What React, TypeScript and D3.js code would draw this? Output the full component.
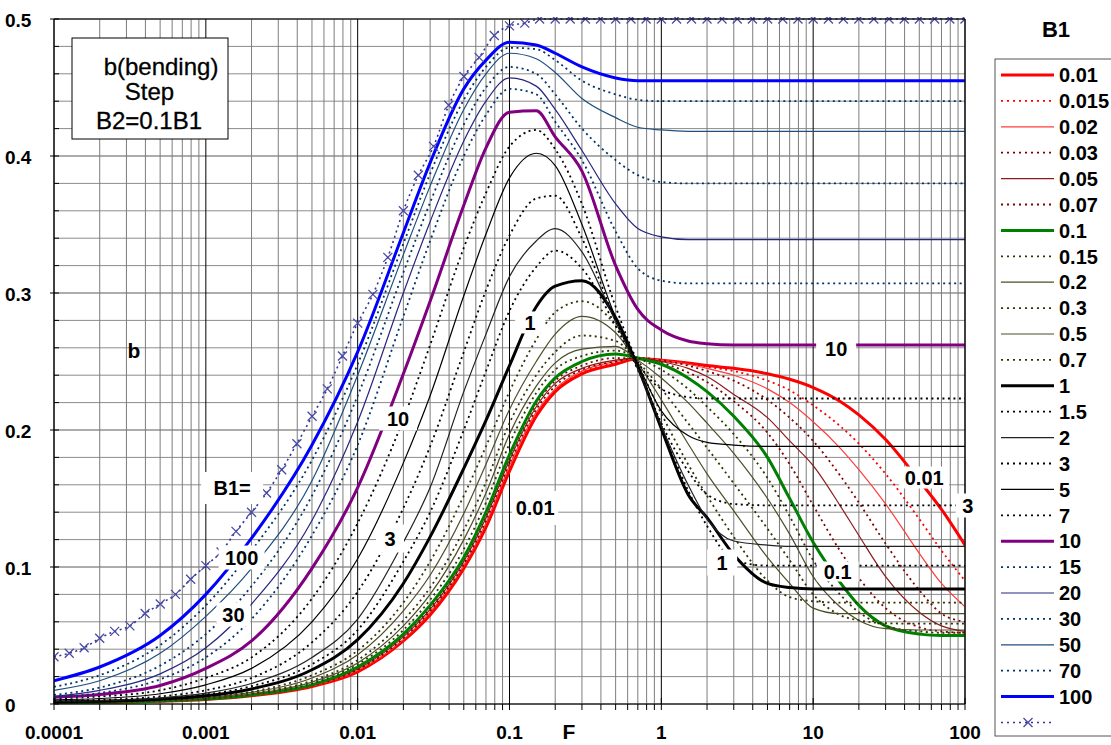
import React from 'react';
import * as d3 from 'd3';

// F sample points shared by all B1 curves
const fGrid = [0.0001, 0.0002, 0.0005, 0.001, 0.002, 0.005, 0.01, 0.02, 0.03, 0.05, 0.07, 0.1, 0.15, 0.2, 0.3, 0.5, 0.7, 1, 1.5, 2, 3, 5, 7, 10, 15, 20, 30, 50, 70, 100];

const b1Labels = ['0.01', '0.015', '0.02', '0.03', '0.05', '0.07', '0.1', '0.15', '0.2', '0.3', '0.5', '0.7', '1', '1.5', '2', '3', '5', '7', '10', '15', '20', '30', '50', '70', '100'];

const b0_01 = [0.0008, 0.0011, 0.002, 0.0033, 0.006, 0.0128, 0.0235, 0.046, 0.065, 0.099, 0.129, 0.170, 0.210, 0.228, 0.241, 0.248, 0.252, 0.251, 0.249, 0.247, 0.245, 0.241, 0.237, 0.231, 0.221, 0.211, 0.193, 0.163, 0.142, 0.116];
const b0_015 = [0.0008, 0.0011, 0.002, 0.0034, 0.0061, 0.013, 0.024, 0.0465, 0.066, 0.100, 0.131, 0.172, 0.212, 0.229, 0.242, 0.249, 0.2525, 0.251, 0.248, 0.246, 0.243, 0.236, 0.229, 0.218, 0.203, 0.190, 0.168, 0.135, 0.112, 0.090];
const b0_02 = [0.0008, 0.0011, 0.002, 0.0034, 0.0062, 0.0132, 0.0245, 0.047, 0.067, 0.101, 0.132, 0.174, 0.213, 0.230, 0.243, 0.250, 0.2525, 0.251, 0.248, 0.245, 0.240, 0.230, 0.220, 0.206, 0.187, 0.171, 0.146, 0.110, 0.088, 0.071];
const b0_03 = [0.0009, 0.0012, 0.0021, 0.0035, 0.0063, 0.0134, 0.025, 0.048, 0.068, 0.102, 0.134, 0.176, 0.215, 0.232, 0.244, 0.250, 0.2525, 0.251, 0.247, 0.243, 0.236, 0.222, 0.209, 0.192, 0.167, 0.147, 0.117, 0.083, 0.066, 0.060];
const b0_05 = [0.0009, 0.0012, 0.0021, 0.0035, 0.0064, 0.0136, 0.0255, 0.049, 0.069, 0.104, 0.136, 0.178, 0.217, 0.234, 0.245, 0.251, 0.2525, 0.250, 0.245, 0.239, 0.226, 0.209, 0.192, 0.174, 0.145, 0.123, 0.093, 0.067, 0.057, 0.053];
const b0_07 = [0.0009, 0.0012, 0.0021, 0.0035, 0.0065, 0.0138, 0.026, 0.050, 0.070, 0.105, 0.138, 0.180, 0.219, 0.236, 0.247, 0.2525, 0.2525, 0.249, 0.242, 0.235, 0.221, 0.198, 0.175, 0.145, 0.112, 0.092, 0.070, 0.056, 0.053, 0.052];
const b0_1 = [0.0009, 0.0012, 0.0022, 0.0036, 0.0066, 0.014, 0.027, 0.051, 0.072, 0.107, 0.140, 0.182, 0.221, 0.238, 0.250, 0.2555, 0.2525, 0.248, 0.238, 0.228, 0.210, 0.180, 0.150, 0.118, 0.089, 0.072, 0.057, 0.051, 0.050, 0.050];
const b0_15 = [0.001, 0.0013, 0.0023, 0.0038, 0.007, 0.015, 0.029, 0.054, 0.076, 0.113, 0.147, 0.190, 0.227, 0.244, 0.254, 0.258, 0.2525, 0.244, 0.230, 0.217, 0.197, 0.165, 0.137, 0.105, 0.080, 0.067, 0.057, 0.053, 0.052, 0.052];
const b0_2 = [0.001, 0.0014, 0.0024, 0.004, 0.0073, 0.016, 0.030, 0.057, 0.080, 0.120, 0.154, 0.197, 0.232, 0.249, 0.259, 0.261, 0.251, 0.238, 0.220, 0.205, 0.183, 0.150, 0.124, 0.093, 0.071, 0.061, 0.055, 0.054, 0.054, 0.054];
const b0_3 = [0.0011, 0.0015, 0.0026, 0.0043, 0.0078, 0.017, 0.032, 0.061, 0.085, 0.127, 0.162, 0.205, 0.240, 0.257, 0.269, 0.265, 0.250, 0.230, 0.205, 0.187, 0.161, 0.128, 0.105, 0.080, 0.065, 0.061, 0.059, 0.0586, 0.0586, 0.0586];
const b0_5 = [0.0012, 0.0016, 0.0028, 0.0047, 0.0085, 0.019, 0.036, 0.068, 0.094, 0.139, 0.175, 0.215, 0.250, 0.270, 0.283, 0.271, 0.249, 0.222, 0.190, 0.168, 0.141, 0.107, 0.088, 0.070, 0.066, 0.066, 0.066, 0.066, 0.066, 0.066];
const b0_7 = [0.0013, 0.0017, 0.003, 0.005, 0.009, 0.021, 0.039, 0.074, 0.104, 0.152, 0.188, 0.228, 0.266, 0.286, 0.294, 0.276, 0.248, 0.212, 0.175, 0.152, 0.122, 0.090, 0.078, 0.075, 0.074, 0.074, 0.074, 0.074, 0.074, 0.074];
const b1 = [0.0015, 0.002, 0.0035, 0.006, 0.011, 0.025, 0.047, 0.088, 0.122, 0.172, 0.207, 0.247, 0.290, 0.305, 0.309, 0.282, 0.246, 0.201, 0.153, 0.136, 0.109, 0.088, 0.085, 0.084, 0.084, 0.084, 0.084, 0.084, 0.084, 0.084];
const b1_5 = [0.0018, 0.0022, 0.004, 0.007, 0.013, 0.029, 0.054, 0.104, 0.140, 0.200, 0.243, 0.287, 0.319, 0.331, 0.318, 0.276, 0.244, 0.203, 0.156, 0.130, 0.105, 0.101, 0.101, 0.101, 0.101, 0.101, 0.101, 0.101, 0.101, 0.101];
const b2 = [0.002, 0.0025, 0.0045, 0.008, 0.015, 0.034, 0.062, 0.118, 0.158, 0.228, 0.270, 0.312, 0.338, 0.347, 0.330, 0.279, 0.245, 0.203, 0.160, 0.135, 0.119, 0.116, 0.115, 0.115, 0.115, 0.115, 0.115, 0.115, 0.115, 0.115];
const b3 = [0.0025, 0.003, 0.0055, 0.010, 0.019, 0.045, 0.082, 0.143, 0.188, 0.257, 0.302, 0.342, 0.369, 0.371, 0.340, 0.280, 0.246, 0.205, 0.170, 0.153, 0.146, 0.145, 0.145, 0.145, 0.145, 0.145, 0.145, 0.145, 0.145, 0.145];
const b5 = [0.003, 0.004, 0.0075, 0.014, 0.026, 0.060, 0.106, 0.176, 0.225, 0.298, 0.343, 0.384, 0.402, 0.393, 0.350, 0.282, 0.248, 0.214, 0.196, 0.191, 0.189, 0.188, 0.188, 0.188, 0.188, 0.188, 0.188, 0.188, 0.188, 0.188];
const b7 = [0.004, 0.0055, 0.010, 0.019, 0.034, 0.077, 0.132, 0.208, 0.262, 0.333, 0.373, 0.407, 0.419, 0.405, 0.365, 0.290, 0.250, 0.230, 0.224, 0.223, 0.223, 0.223, 0.223, 0.223, 0.223, 0.223, 0.223, 0.223, 0.223, 0.223];
const b10 = [0.005, 0.007, 0.0135, 0.026, 0.046, 0.099, 0.158, 0.241, 0.294, 0.364, 0.406, 0.432, 0.433, 0.414, 0.389, 0.320, 0.288, 0.273, 0.265, 0.263, 0.262, 0.262, 0.262, 0.262, 0.262, 0.262, 0.262, 0.262, 0.262, 0.262];
const b15 = [0.0047, 0.008, 0.018, 0.034, 0.062, 0.123, 0.189, 0.283, 0.338, 0.400, 0.430, 0.449, 0.445, 0.425, 0.397, 0.345, 0.318, 0.309, 0.307, 0.307, 0.307, 0.307, 0.307, 0.307, 0.307, 0.307, 0.307, 0.307, 0.307, 0.307];
const b20 = [0.0055, 0.010, 0.022, 0.041, 0.073, 0.134, 0.206, 0.300, 0.352, 0.411, 0.440, 0.457, 0.451, 0.434, 0.404, 0.365, 0.347, 0.341, 0.339, 0.339, 0.339, 0.339, 0.339, 0.339, 0.339, 0.339, 0.339, 0.339, 0.339, 0.339];
const b30 = [0.0066, 0.012, 0.028, 0.051, 0.086, 0.152, 0.225, 0.315, 0.366, 0.423, 0.450, 0.465, 0.460, 0.445, 0.420, 0.397, 0.386, 0.381, 0.380, 0.380, 0.380, 0.380, 0.380, 0.380, 0.380, 0.380, 0.380, 0.380, 0.380, 0.380];
const b50 = [0.010, 0.017, 0.037, 0.064, 0.099, 0.163, 0.240, 0.328, 0.378, 0.434, 0.460, 0.475, 0.471, 0.461, 0.442, 0.428, 0.421, 0.419, 0.418, 0.418, 0.418, 0.418, 0.418, 0.418, 0.418, 0.418, 0.418, 0.418, 0.418, 0.418];
const b70 = [0.0125, 0.021, 0.043, 0.072, 0.112, 0.178, 0.248, 0.336, 0.387, 0.441, 0.465, 0.479, 0.478, 0.470, 0.455, 0.445, 0.441, 0.440, 0.440, 0.440, 0.440, 0.440, 0.440, 0.440, 0.440, 0.440, 0.440, 0.440, 0.440, 0.440];
const b100 = [0.017, 0.027, 0.050, 0.080, 0.121, 0.189, 0.257, 0.344, 0.395, 0.449, 0.470, 0.483, 0.481, 0.475, 0.465, 0.457, 0.455, 0.455, 0.455, 0.455, 0.455, 0.455, 0.455, 0.455, 0.455, 0.455, 0.455, 0.455, 0.455, 0.455];

const seriesValues = [b0_01, b0_015, b0_02, b0_03, b0_05, b0_07, b0_1, b0_15, b0_2, b0_3, b0_5, b0_7, b1, b1_5, b2, b3, b5, b7, b10, b15, b20, b30, b50, b70, b100];

// upper bound curve (crosses), one marker every 0.1 decade
const boundMantissa = [1, 1.26, 1.58, 2, 2.51, 3.16, 3.98, 5.01, 6.31, 7.94];
const boundDecades = [0.0001, 0.001, 0.01, 0.1, 1, 10];
const boundValues = [
  0.0345, 0.037, 0.041, 0.048, 0.053, 0.057, 0.066, 0.073, 0.080, 0.091,
  0.101, 0.111, 0.126, 0.140, 0.154, 0.171, 0.190, 0.210, 0.230, 0.254,
  0.278, 0.299, 0.326, 0.360, 0.386, 0.407, 0.437, 0.458, 0.472, 0.488,
  0.495, 0.497, 0.5, 0.5, 0.5, 0.5, 0.5, 0.5, 0.5, 0.5,
  0.5, 0.5, 0.5, 0.5, 0.5, 0.5, 0.5, 0.5, 0.5, 0.5,
  0.5, 0.5, 0.5, 0.5, 0.5, 0.5, 0.5, 0.5, 0.5, 0.5,
  0.5,
];
const boundF = [...boundDecades.flatMap(d => boundMantissa.map(m => +(d * m).toPrecision(3))), 100];

const xTickLabels = ['0.0001', '0.001', '0.01', '0.1', '1', '10', '100'];
const yTickLabels = ['0', '0.1', '0.2', '0.3', '0.4', '0.5'];

// in-chart labels, anchored in data coordinates (F, b)
const annotations = [
  { text: 'B1=', f: 0.00149, b: 0.1577, w: 62, h: 32 },
  { text: '100', f: 0.00172, b: 0.1069, w: 46, h: 24 },
  { text: '30', f: 0.00152, b: 0.0653, w: 34, h: 24 },
  { text: '10', f: 0.01846, b: 0.2084, w: 38, h: 24 },
  { text: '3', f: 0.01634, b: 0.1208, w: 28, h: 28 },
  { text: '1', f: 0.1367, b: 0.2785, w: 30, h: 22 },
  { text: '0.01', f: 0.1475, b: 0.1431, w: 46, h: 34 },
  { text: '10', f: 14.17, b: 0.2595, w: 40, h: 22 },
  { text: '0.01', f: 53.84, b: 0.1653, w: 50, h: 22 },
  { text: '3', f: 104.2, b: 0.1449, w: 24, h: 24 },
  { text: '1', f: 2.515, b: 0.1033, w: 30, h: 26 },
  { text: '0.1', f: 14.5, b: 0.0967, w: 42, h: 20 },
];

const DOT = '2,3.5';
const seriesStyle = [
  { c: '#ff0000', w: 3, d: null },
  { c: '#ff0000', w: 1.8, d: DOT },
  { c: '#ff3b3b', w: 1.2, d: null },
  { c: '#800000', w: 1.8, d: DOT },
  { c: '#8b1a1a', w: 1.2, d: null },
  { c: '#800000', w: 1.8, d: DOT },
  { c: '#008000', w: 3, d: null },
  { c: '#333300', w: 1.8, d: DOT },
  { c: '#4d4d26', w: 1.2, d: null },
  { c: '#333300', w: 1.8, d: DOT },
  { c: '#4d4d26', w: 1.2, d: null },
  { c: '#333300', w: 1.8, d: DOT },
  { c: '#000000', w: 3, d: null },
  { c: '#000000', w: 1.8, d: DOT },
  { c: '#222222', w: 1.2, d: null },
  { c: '#000000', w: 1.8, d: DOT },
  { c: '#000000', w: 1.2, d: null },
  { c: '#000000', w: 1.8, d: DOT },
  { c: '#800080', w: 3, d: null },
  { c: '#003366', w: 1.8, d: DOT },
  { c: '#262680', w: 1.2, d: null },
  { c: '#003366', w: 1.8, d: DOT },
  { c: '#1f4f7f', w: 1.2, d: null },
  { c: '#003366', w: 1.8, d: DOT },
  { c: '#0000ff', w: 3, d: null },
];
const boundColor = '#33339a';

const FONT = '"Liberation Sans", Arial, sans-serif';

export default function App() {
  const x = d3.scaleLog().domain([1e-4, 100]).range([54, 965]);
  const y = d3.scaleLinear().domain([0, 0.5]).range([704, 19]);

  const line = d3.line<number>()
    .x((_, i) => x(fGrid[i]))
    .y(v => y(v))
    .curve(d3.curveMonotoneX);
  const boundLine = d3.line<number>()
    .x((_, i) => x(boundF[i]))
    .y(v => y(v))
    .curve(d3.curveMonotoneX);

  const xTicks = x.ticks();
  const yTicks = d3.range(0, 0.5001, 0.02).map(v => +v.toFixed(2));
  const isMajorY = (v: number) => Math.abs(v * 10 - Math.round(v * 10)) < 1e-6;
  const isDecade = (v: number) => Math.abs(Math.log10(v) - Math.round(Math.log10(v))) < 1e-6;

  const [x0, x1] = x.range();
  const [y0, y1] = y.range();

  const cross = (cx: number, cy: number, s = 4.5) =>
    `M${cx - s},${cy - s}L${cx + s},${cy + s}M${cx - s},${cy + s}L${cx + s},${cy - s}`;

  const legendX = 995, legendY = 59, rowH = 25.9, firstRow = 75;

  return (
    <div style={{ position: 'fixed', left: 0, top: 0 }}>
      <svg width={1111} height={745} style={{ display: 'block', background: '#fff', fontFamily: FONT }}>
        <defs>
          <clipPath id="plot">
            <rect x={x0} y={y1 - 2} width={x1 - x0} height={y0 - y1 + 2} />
          </clipPath>
        </defs>

        {/* grid */}
        <g>
          {yTicks.map(v => (
            <line key={'gy' + v} x1={x0} x2={x1} y1={y(v)} y2={y(v)}
              stroke={isMajorY(v) ? '#5a5a5a' : '#8c8c8c'} strokeWidth={1} />
          ))}
          {xTicks.map(v => (
            <line key={'gx' + v} x1={x(v)} x2={x(v)} y1={y1} y2={y0}
              stroke={isDecade(v) ? '#000' : '#7d7d7d'} strokeWidth={1} />
          ))}
        </g>

        {/* curves */}
        <g clipPath="url(#plot)">
          {seriesValues.map((vals, i) => {
            const s = seriesStyle[i];
            return (
              <path key={b1Labels[i]} d={line(vals) || ''} fill="none" stroke={s.c}
                strokeWidth={s.w} strokeDasharray={s.d || undefined} strokeLinejoin="round" />
            );
          })}
          <path d={boundLine(boundValues) || ''} fill="none" stroke={boundColor}
            strokeWidth={1.6} strokeDasharray="2,3.5" />
          {boundValues.map((v, i) => (
            <path key={'m' + i} d={cross(x(boundF[i]), y(v))} stroke="#4a4aa6" strokeWidth={1.3} fill="none" />
          ))}
        </g>

        {/* axes */}
        <g stroke="#000" strokeWidth={1}>
          <line x1={x0} x2={x0} y1={y1} y2={y0} />
          <line x1={x1} x2={x1} y1={y1} y2={y0} />
          <line x1={x0} x2={x1} y1={y0} y2={y0} />
          <line x1={x0} x2={x1} y1={y1} y2={y1} />
          {yTicks.map(v => (
            <line key={'ty' + v} x1={isMajorY(v) ? x0 - 4 : x0} x2={x0 + 5} y1={y(v)} y2={y(v)} />
          ))}
          {xTicks.map(v => (
            <line key={'tx' + v} x1={x(v)} x2={x(v)} y1={isDecade(v) ? y0 - 6 : y0} y2={y0 + 6} />
          ))}
        </g>

        {/* tick labels */}
        <g fontSize={19} fontWeight="bold" fill="#000">
          {yTickLabels.map(t => (
            <text key={'yl' + t} x={5} y={y(+t) + 8}>{t}</text>
          ))}
          {xTickLabels.map(t => (
            <text key={'xl' + t} x={x(+t)} y={739} textAnchor="middle">{t}</text>
          ))}
          <text x={569} y={739} textAnchor="middle" fontSize={21}>F</text>
          <text x={134} y={358} textAnchor="middle" fontSize={21}>b</text>
        </g>

        {/* in-chart labels */}
        <g fontSize={20} fontWeight="bold">
          {annotations.map((a, i) => {
            const cx = x(a.f), cy = y(a.b);
            return (
              <g key={'an' + i}>
                <rect x={cx - a.w / 2} y={cy - a.h / 2} width={a.w} height={a.h} fill="#fff" />
                <text x={cx} y={cy} dy="0.36em" textAnchor="middle">{a.text}</text>
              </g>
            );
          })}
        </g>

        {/* title box */}
        <g>
          <rect x={72} y={38} width={156} height={101} fill="#fff" stroke="#000" strokeWidth={1} />
          <text x={161} y={75} textAnchor="middle" fontSize={24} stroke="#000" strokeWidth={0.3}>b(bending)</text>
          <text x={149.5} y={100} textAnchor="middle" fontSize={24} stroke="#000" strokeWidth={0.3}>Step</text>
          <text x={149} y={129} textAnchor="middle" fontSize={24} stroke="#000" strokeWidth={0.3}>B2=0.1B1</text>
        </g>

        {/* legend */}
        <g>
          <text x={1056} y={37} textAnchor="middle" fontSize={22} fontWeight="bold">B1</text>
          <rect x={legendX} y={legendY} width={140} height={677} fill="#fff" stroke="#555" strokeWidth={1} />
          {b1Labels.map((t, i) => {
            const s = seriesStyle[i];
            const cy = firstRow + i * rowH;
            return (
              <g key={'lg' + t}>
                <line x1={1001} x2={1054} y1={cy} y2={cy} stroke={s.c}
                  strokeWidth={s.w === 3 ? 3 : (s.d ? 1.8 : 1.2)} strokeDasharray={s.d ? '2,4' : undefined} />
                <text x={1059} y={cy} dy="0.36em" fontSize={20} fontWeight="bold">{t}</text>
              </g>
            );
          })}
          {(() => {
            const cy = firstRow + b1Labels.length * rowH;
            return (
              <g>
                <line x1={1001} x2={1054} y1={cy} y2={cy} stroke={boundColor} strokeWidth={1.6} strokeDasharray="2,4" />
                <path d={cross(1028, cy)} stroke="#4a4aa6" strokeWidth={1.3} />
              </g>
            );
          })()}
        </g>
      </svg>
    </div>
  );
}
